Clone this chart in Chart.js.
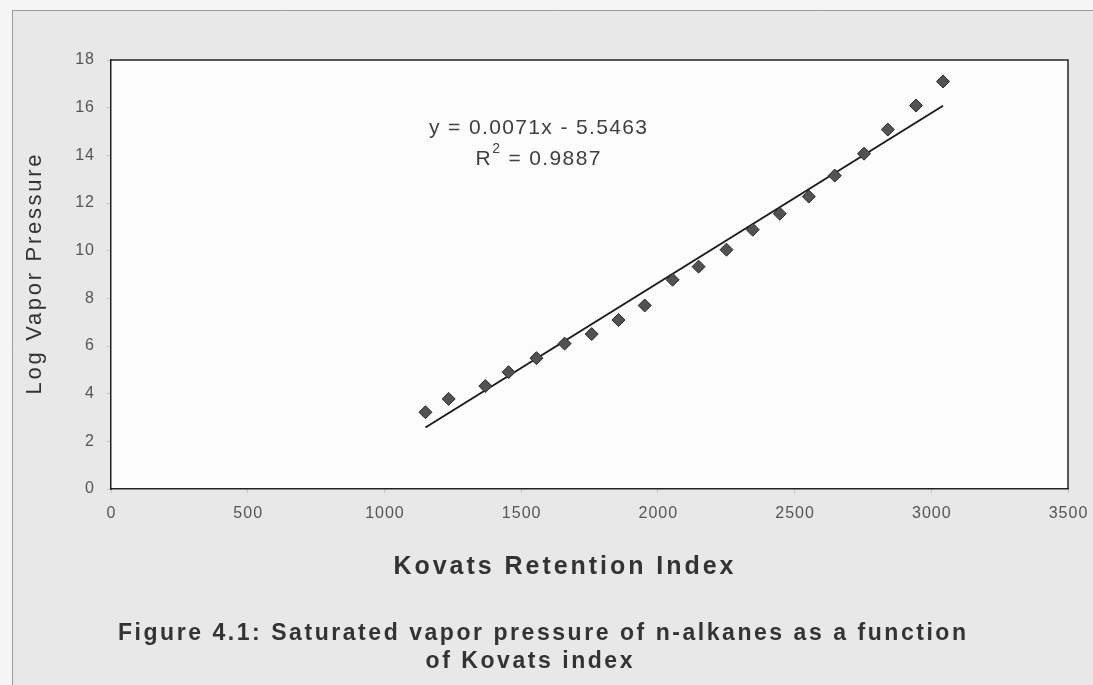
<!DOCTYPE html>
<html>
<head>
<meta charset="utf-8">
<script src="https://cdn.jsdelivr.net/npm/chart.js@4.4.1/dist/chart.umd.min.js"></script>
<style>
html,body{margin:0;padding:0;background:#f4f4f4;overflow:hidden}
#wrap{position:relative;width:1093px;height:685px}
canvas{display:block}
</style>
</head>
<body>
<div id="wrap"><canvas id="c" width="1093" height="685"></canvas></div>
<script>
// ---------- data ----------
const kovatsIndex = [1150, 1235, 1369, 1454, 1556, 1659, 1758, 1856, 1952, 2054,
                     2149, 2251, 2347, 2446, 2552, 2647, 2754, 2841, 2944, 3043];
const logVaporPressure = [3.22, 3.78, 4.32, 4.90, 5.49, 6.10, 6.50, 7.09, 7.70, 8.78,
                          9.33, 10.04, 10.88, 11.55, 12.27, 13.15, 14.07, 15.08, 16.09, 17.10];
const trendX = [1150, 3043];
const trendY = [2.58, 16.08];
const xTickValues = [0, 500, 1000, 1500, 2000, 2500, 3000, 3500];
const yTickValues = [0, 2, 4, 6, 8, 10, 12, 14, 16, 18];
const xTitle = 'Kovats Retention Index';
const yTitle = 'Log Vapor Pressure';
const equationText = 'y = 0.0071x - 5.5463';
const rSquaredParts = ['R', '2', ' = 0.9887'];
const captionLines = ['Figure 4.1: Saturated vapor pressure of n-alkanes as a function', 'of Kovats index'];

// ---------- styling / layout ----------
const FAMILY = '"Liberation Sans", Arial, Helvetica, sans-serif';
const W = 1093, H = 685;

const measureCtx = document.createElement('canvas').getContext('2d');
function spacingFor(text, font, target) {
  measureCtx.font = font;
  const w = measureCtx.measureText(text).width;
  return Math.max(0, (target - w) / Math.max(1, text.length - 1));
}
const xTitleFont = 'bold 25px ' + FAMILY;
const yTitleFont = '22px ' + FAMILY;
const eqFont = '21px ' + FAMILY;
const capFont = 'bold 23px ' + FAMILY;
const xTitleLS = spacingFor(xTitle, xTitleFont, 340);
const yTitleLS = spacingFor(yTitle, yTitleFont, 240);
const eqLS = spacingFor(equationText, eqFont, 218);
const capLS = spacingFor(captionLines[0], capFont, 848);
const tickLS = 1;

function patchScale(scale, titleLS, titleDx) {
  if (scale._lsPatched) return;
  scale._lsPatched = true;
  const origTitle = scale.drawTitle;
  const origLabels = scale.drawLabels;
  scale.drawTitle = function (...a) {
    const ctx = this.ctx;
    ctx.save();
    ctx.letterSpacing = titleLS + 'px';
    ctx.translate(titleDx + (this.isHorizontal() ? titleLS / 2 : 0), this.isHorizontal() ? 0 : -titleLS / 2);
    origTitle.apply(this, a);
    ctx.restore();
  };
  scale.drawLabels = function (...a) {
    const ctx = this.ctx;
    ctx.save();
    ctx.letterSpacing = tickLS + 'px';
    ctx.translate(this.isHorizontal() ? tickLS / 2 : tickLS, 0);
    origLabels.apply(this, a);
    ctx.restore();
  };
}

function drawSpaced(ctx, text, font, ls, cx, cy, color) {
  ctx.save();
  ctx.font = font;
  ctx.letterSpacing = ls + 'px';
  ctx.fillStyle = color;
  ctx.textAlign = 'left';
  ctx.textBaseline = 'middle';
  const w = ctx.measureText(text).width - ls;
  ctx.fillText(text, cx - w / 2, cy);
  ctx.restore();
}

const framePlugin = {
  id: 'frame',
  beforeDraw(chart) {
    const ctx = chart.ctx;
    const a = chart.chartArea;
    ctx.save();
    ctx.fillStyle = '#f5f5f5';
    ctx.fillRect(0, 0, W, H);
    ctx.fillStyle = '#e8e8e8';
    ctx.fillRect(12, 10, W - 12, H - 10);
    ctx.strokeStyle = '#9c9c9c';
    ctx.lineWidth = 1;
    ctx.beginPath();
    ctx.moveTo(12, 10.5); ctx.lineTo(W, 10.5);
    ctx.moveTo(12.5, 10); ctx.lineTo(12.5, H);
    ctx.stroke();
    ctx.fillStyle = '#fcfcfc';
    ctx.fillRect(a.left, a.top, a.right - a.left, a.bottom - a.top);
    ctx.restore();
    patchScale(chart.scales.x, xTitleLS, -26);
    patchScale(chart.scales.y, yTitleLS, 0);
  },
  beforeDatasetsDraw(chart) {
    const ctx = chart.ctx;
    const a = chart.chartArea;
    ctx.save();
    ctx.strokeStyle = '#222';
    ctx.lineWidth = 1.5;
    ctx.beginPath();
    ctx.moveTo(a.left, a.top); ctx.lineTo(a.right, a.top); ctx.lineTo(a.right, a.bottom);
    ctx.stroke();
    ctx.restore();
  },
  afterDraw(chart) {
    const ctx = chart.ctx;
    // regression equation
    drawSpaced(ctx, equationText, eqFont, eqLS, 538, 128, '#404040');
    // R^2 with superscript
    ctx.save();
    ctx.fillStyle = '#404040';
    ctx.textBaseline = 'middle';
    ctx.letterSpacing = eqLS + 'px';
    ctx.font = eqFont;
    const wR = ctx.measureText(rSquaredParts[0]).width;
    const wRest = ctx.measureText(rSquaredParts[2]).width;
    ctx.font = '14px ' + FAMILY;
    const wSup = ctx.measureText(rSquaredParts[1]).width;
    const total = wR + wSup + wRest - eqLS;
    let x = 538 - total / 2;
    const y = 159;
    ctx.font = eqFont;
    ctx.fillText(rSquaredParts[0], x, y);
    x += wR;
    ctx.font = '14px ' + FAMILY;
    ctx.fillText(rSquaredParts[1], x, y - 10);
    x += wSup;
    ctx.font = eqFont;
    ctx.fillText(rSquaredParts[2], x, y);
    ctx.restore();
    // figure caption
    drawSpaced(ctx, captionLines[0], capFont, capLS, 542, 634, '#333');
    drawSpaced(ctx, captionLines[1], capFont, capLS, 529, 662, '#333');
  }
};

const tickFont = { family: FAMILY, size: 16 };

new Chart(document.getElementById('c'), {
  type: 'scatter',
  data: {
    datasets: [
      {
        label: 'Log Vapor Pressure',
        data: kovatsIndex.map((x, i) => ({ x: x, y: logVaporPressure[i] })),
        pointStyle: 'rectRot',
        pointRadius: 6.5,
        pointHoverRadius: 6.5,
        backgroundColor: '#525252',
        borderColor: '#2a2a2a',
        borderWidth: 1,
        showLine: false,
        order: 0
      },
      {
        label: 'Linear trend',
        data: trendX.map((x, i) => ({ x: x, y: trendY[i] })),
        showLine: true,
        pointRadius: 0,
        borderColor: '#1c1c1c',
        borderWidth: 2,
        fill: false,
        order: 1
      }
    ]
  },
  options: {
    responsive: false,
    animation: false,
    devicePixelRatio: 1,
    layout: { padding: { left: 0, top: 60, right: 25, bottom: 75 } },
    plugins: {
      legend: { display: false },
      tooltip: { enabled: false },
      title: { display: false }
    },
    scales: {
      x: {
        type: 'linear',
        min: 0,
        max: 3500,
        afterBuildTicks: s => { s.ticks = xTickValues.map(v => ({ value: v })); },
        afterFit: s => { s.height = 121; s.paddingRight = 0; s.paddingLeft = 0; },
        ticks: { color: '#555', font: tickFont, padding: 11, maxRotation: 0, callback: v => String(v) },
        grid: { display: true, drawOnChartArea: false, drawTicks: true, tickLength: 4, color: '#c4c4c4' },
        border: { display: true, color: '#222', width: 1.5 },
        title: {
          display: true, text: xTitle, color: '#333',
          font: { family: FAMILY, size: 25, weight: 'bold' },
          padding: { top: 0, bottom: 28 }
        }
      },
      y: {
        type: 'linear',
        min: 0,
        max: 18,
        afterBuildTicks: s => { s.ticks = yTickValues.map(v => ({ value: v })); },
        afterFit: s => { s.width = 111; s.paddingTop = 0; s.paddingBottom = 0; },
        ticks: { color: '#555', font: tickFont, padding: 13, callback: v => String(v) },
        grid: { display: true, drawOnChartArea: false, drawTicks: true, tickLength: 4, color: '#c4c4c4' },
        border: { display: true, color: '#222', width: 1.5 },
        title: {
          display: true, text: yTitle, color: '#333',
          font: { family: FAMILY, size: 22, weight: 'normal' },
          padding: { top: 22, bottom: 0 }
        }
      }
    }
  },
  plugins: [framePlugin]
});
</script>
</body>
</html>
